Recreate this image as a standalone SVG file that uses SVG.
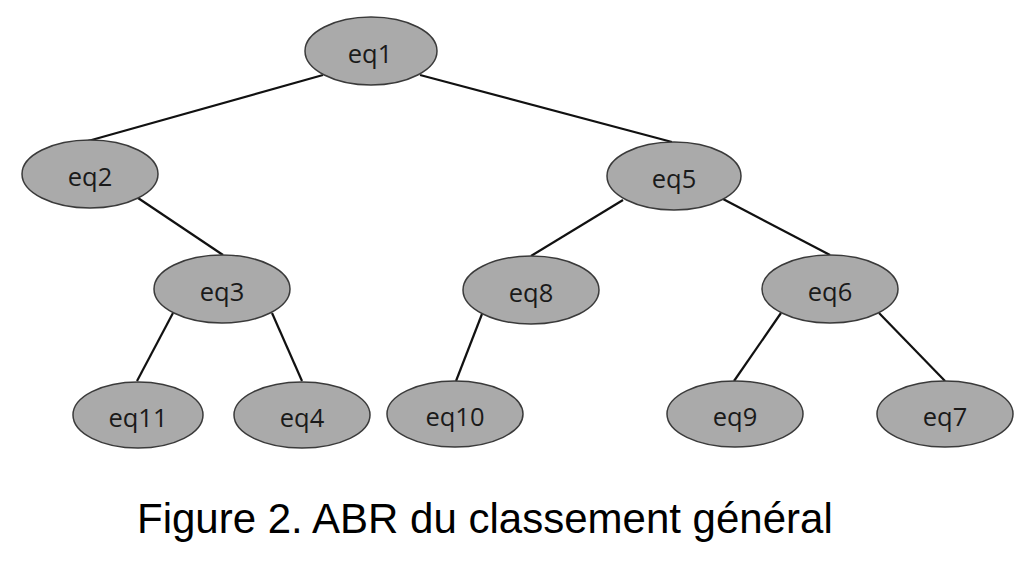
<svg xmlns="http://www.w3.org/2000/svg" width="1030" height="566" viewBox="0 0 1030 566">
<style>
.node ellipse{fill:#aaaaaa;stroke:#3a3a3a;stroke-width:1.5}
.node text{font-family:"Open Sans","Noto Sans",sans-serif;font-size:25.5px;fill:#1a1a1a;text-anchor:middle}
.edges line{stroke:#111;stroke-width:2.2}
.caption{font-family:"Liberation Sans",Arial,sans-serif;font-size:42px;fill:#000}
</style>
<rect width="1030" height="566" fill="#fff"/>
<g class="edges">
<line x1="323" y1="75" x2="88" y2="141"/>
<line x1="420" y1="75" x2="672" y2="142"/>
<line x1="138" y1="198" x2="223" y2="255"/>
<line x1="173" y1="313" x2="137" y2="381"/>
<line x1="272" y1="313" x2="302" y2="381"/>
<line x1="623" y1="200" x2="531" y2="256"/>
<line x1="723" y1="199" x2="830" y2="255"/>
<line x1="482" y1="314" x2="456" y2="381"/>
<line x1="781" y1="313" x2="734" y2="381"/>
<line x1="879" y1="313" x2="945" y2="381"/>
</g>
<g id="eq1" class="node"><ellipse cx="371" cy="51" rx="66" ry="34"/><text x="370" y="63">eq1</text></g>
<g id="eq2" class="node"><ellipse cx="90" cy="174" rx="68" ry="34"/><text x="90" y="186">eq2</text></g>
<g id="eq5" class="node"><ellipse cx="674" cy="176" rx="67" ry="34"/><text x="674" y="188">eq5</text></g>
<g id="eq3" class="node"><ellipse cx="222" cy="289" rx="68" ry="34"/><text x="222" y="301">eq3</text></g>
<g id="eq8" class="node"><ellipse cx="531" cy="290" rx="68" ry="34"/><text x="531" y="302">eq8</text></g>
<g id="eq6" class="node"><ellipse cx="830" cy="289" rx="68" ry="34"/><text x="830" y="301">eq6</text></g>
<g id="eq11" class="node"><ellipse cx="138" cy="415" rx="65" ry="33"/><text x="138" y="427">eq11</text></g>
<g id="eq4" class="node"><ellipse cx="302" cy="415" rx="68" ry="33"/><text x="302" y="427">eq4</text></g>
<g id="eq10" class="node"><ellipse cx="455" cy="414" rx="68" ry="33"/><text x="455" y="426">eq10</text></g>
<g id="eq9" class="node"><ellipse cx="735" cy="414" rx="68" ry="33"/><text x="735" y="426">eq9</text></g>
<g id="eq7" class="node"><ellipse cx="945" cy="414" rx="68" ry="33"/><text x="945" y="426">eq7</text></g>
<text class="caption" x="137" y="533">Figure 2. ABR du classement général</text>
</svg>
